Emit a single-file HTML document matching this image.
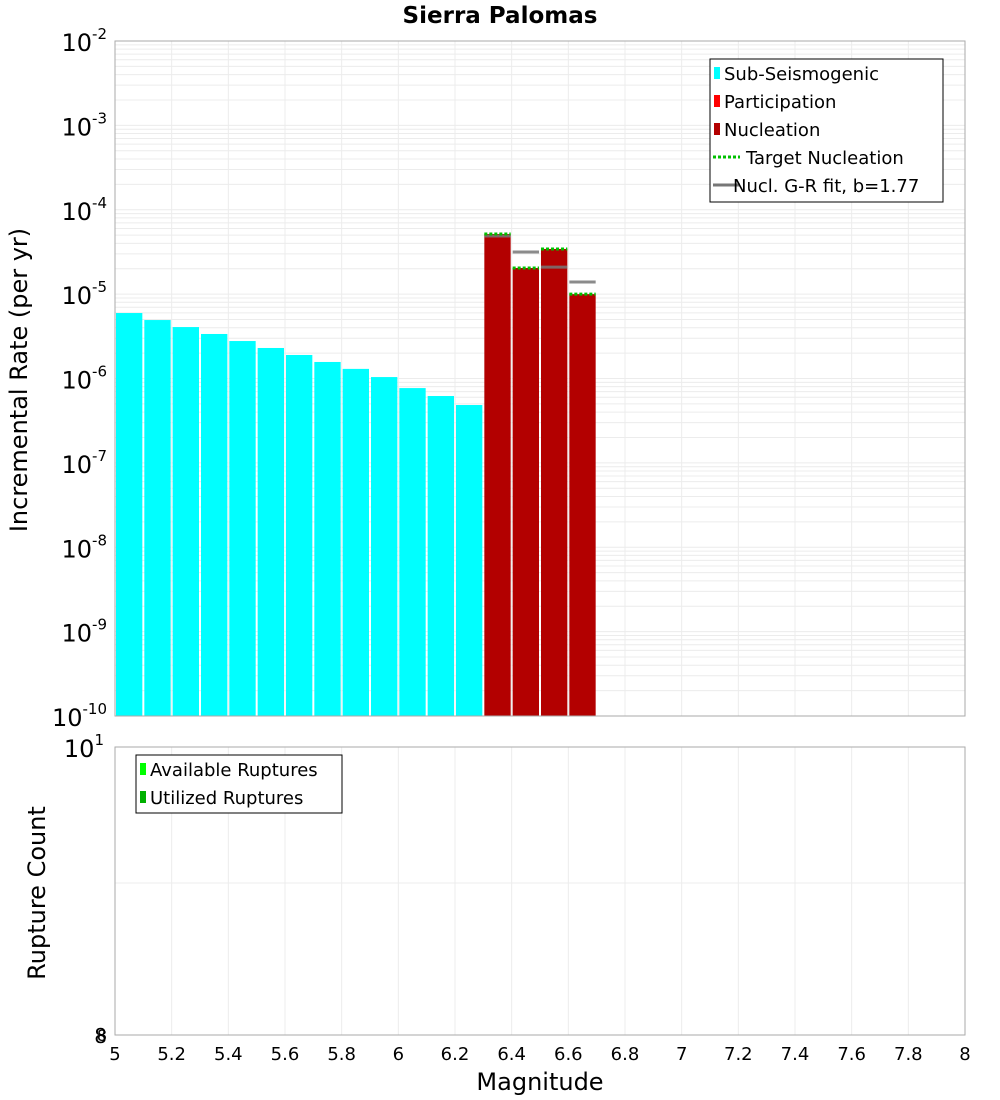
<!DOCTYPE html>
<html><head><meta charset="utf-8"><style>
body{margin:0;background:#fff;}
svg{display:block;font-family:"DejaVu Sans","Liberation Sans",sans-serif;}
</style></head><body>
<svg id="chart" width="1000" height="1100" viewBox="0 0 1000 1100" xmlns="http://www.w3.org/2000/svg">
<text x="500" y="23" text-anchor="middle" font-size="23" font-weight="bold">Sierra Palomas</text>
<g id="topg"></g><g id="botg"></g>
<text transform="translate(27,380) rotate(-90)" text-anchor="middle" font-size="24">Incremental Rate (per yr)</text>
<text transform="translate(45,893) rotate(-90)" text-anchor="middle" font-size="24">Rupture Count</text>
<text x="540" y="1090" text-anchor="middle" font-size="24">Magnitude</text>
</svg>
<script>
const subMags=[5.0,5.1,5.2,5.3,5.4,5.5,5.6,5.7,5.8,5.9,6.0,6.1,6.2];
const subRates=[5.97e-6,4.93e-6,4.07e-6,3.37e-6,2.78e-6,2.30e-6,1.90e-6,1.57e-6,1.30e-6,1.04e-6,7.7e-7,6.2e-7,4.85e-7];
const nuclMags=[6.3,6.4,6.5,6.6];
const nuclRates=[5.16e-5,2.04e-5,3.43e-5,1.0e-5];
const targetRates=[5.16e-5,2.04e-5,3.43e-5,1.0e-5];
const grRates=[4.89e-5,3.16e-5,2.09e-5,1.39e-5];
const countMags=[6.5];
const countVals=[1];
const xTicks=[5,5.2,5.4,5.6,5.8,6,6.2,6.4,6.6,6.8,7,7.2,7.4,7.6,7.8,8];
const yDecades=[-10,-9,-8,-7,-6,-5,-4,-3,-2];
const bTicks=[2,3,4,6,8];

const NS="http://www.w3.org/2000/svg";
const X0=115,X1=965;
const xs=m=>X0+(m-5)/3*(X1-X0);
const TY0=41,TY1=716;
const ty=v=>TY0+(-2-Math.log10(v))/8*(TY1-TY0);
const BY0=747,BY1=1035;
const by=v=>BY0+(1-Math.log10(v))/(1-Math.log10(8))*(BY1-BY0);
function el(p,tag,a,name,txt){const e=document.createElementNS(NS,tag);for(const k in a)e.setAttribute(k,a[k]);


if(txt!==undefined)e.textContent=txt;p.appendChild(e);return e;}
const gTop=document.getElementById('topg'),gBot=document.getElementById('botg');

for(let d=-10;d<-2;d++)for(let k=1;k<10;k++){const y=ty(k*Math.pow(10,d));el(gTop,'line',{x1:X0,x2:X1,y1:y,y2:y,stroke:'#ececec','stroke-width':1},'grid-line-h');}
xTicks.forEach(m=>{el(gTop,'line',{x1:xs(m),x2:xs(m),y1:TY0,y2:TY1,stroke:'#ececec'},'grid-line-v');el(gBot,'line',{x1:xs(m),x2:xs(m),y1:BY0,y2:BY1,stroke:'#ececec'},'grid-line-v');});
[1,2,3,4,5,6,7,8,9,10].forEach(v=>{const y=by(v);el(gBot,'line',{x1:X0,x2:X1,y1:y,y2:y,stroke:'#ececec'},'grid-line-h');});

const bw=(X1-X0)/30;
subMags.forEach((m,i)=>{el(gTop,'rect',{x:xs(m)+1,y:ty(subRates[i]),width:bw-2,height:TY1-ty(subRates[i]),fill:'#00ffff'},'sub-seismogenic-bar');});
nuclMags.forEach((m,i)=>{el(gTop,'rect',{x:xs(m)+1,y:ty(nuclRates[i]),width:bw-2,height:TY1-ty(nuclRates[i]),fill:'#b30000'},'nucleation-bar');});
nuclMags.forEach((m,i)=>{el(gTop,'line',{x1:xs(m)+1,x2:xs(m)+bw-1,y1:ty(grRates[i]),y2:ty(grRates[i]),stroke:'#777','stroke-opacity':0.85,'stroke-width':3},'gr-fit-line');});
nuclMags.forEach((m,i)=>{el(gTop,'line',{x1:xs(m)+1,x2:xs(m)+bw-1,y1:ty(targetRates[i]),y2:ty(targetRates[i]),stroke:'#00c000','stroke-width':3,'stroke-dasharray':'3,2'},'target-nucleation-line');});
el(gTop,'rect',{x:X0,y:TY0,width:X1-X0,height:TY1-TY0,fill:'none',stroke:'#aaa'},'plot-frame-top');
yDecades.forEach(d=>{const y=ty(Math.pow(10,d));const t=el(gTop,'text',{x:107,y:y+10,'text-anchor':'end','font-size':24},'y-tick-label','10');
const s=document.createElementNS(NS,'tspan');s.setAttribute('dy','-12');s.setAttribute('font-size','15');s.textContent=String(d);t.appendChild(s);});

countMags.forEach((m,i)=>{el(gBot,'rect',{x:xs(m)+1,y:by(countVals[i]),width:bw-2,height:BY1-by(countVals[i]),fill:'#00b000'},'utilized-ruptures-bar');});
el(gBot,'rect',{x:X0,y:BY0,width:X1-X0,height:BY1-BY0,fill:'none',stroke:'#aaa'},'plot-frame-bottom');
bTicks.forEach(v=>el(gBot,'text',{x:107,y:by(v)+6,'text-anchor':'end','font-size':16},'y-tick-label',String(v)));
[[10,'1'],[1,'0']].forEach(([v,e])=>{const t=el(gBot,'text',{x:104,y:by(v)+10,'text-anchor':'end','font-size':24},'y-tick-label','10');const s=document.createElementNS(NS,'tspan');s.setAttribute('dy','-12');s.setAttribute('font-size','15');s.textContent=e;t.appendChild(s);});
el(gBot,'text',{x:107,y:1043,'text-anchor':'end','font-size':20},'y-tick-label','8');
xTicks.forEach(m=>el(gBot,'text',{x:xs(m),y:1060,'text-anchor':'middle','font-size':18},'x-tick-label',String(m)));

const lg=el(gTop,'g',{},'legend-top');
el(lg,'rect',{x:710,y:59,width:233,height:143,fill:'#fff',stroke:'#000'},'legend-box');
const items=[['Sub-Seismogenic','#00ffff','box'],['Participation','#ff0000','box'],['Nucleation','#b30000','box'],['Target Nucleation','#00c000','dot'],['Nucl. G-R fit, b=1.77','#777','line']];
items.forEach((it,i)=>{const y=73+i*28;
if(it[2]==='box')el(lg,'rect',{x:714,y:y-6,width:6,height:12,fill:it[1]},'legend-swatch');
else el(lg,'line',{x1:713,x2:740,y1:y,y2:y,stroke:it[1],'stroke-width':3,'stroke-dasharray':it[2]==='dot'?'3,2':'none'},'legend-swatch');
el(lg,'text',{x:it[2]==='box'?724:(it[2]==='dot'?746:733),y:y+7,'font-size':18},'legend-entry',it[0]);});
const lb=el(gBot,'g',{},'legend-bottom');
el(lb,'rect',{x:136,y:755,width:206,height:58,fill:'#fff',stroke:'#000'},'legend-box');
[['Available Ruptures','#00ff00'],['Utilized Ruptures','#00b000']].forEach((it,i)=>{const y=769+i*28;
el(lb,'rect',{x:140,y:y-6,width:6,height:12,fill:it[1]},'legend-swatch');
el(lb,'text',{x:150,y:y+7,'font-size':18},'legend-entry',it[0]);});
</script>
</body></html>
